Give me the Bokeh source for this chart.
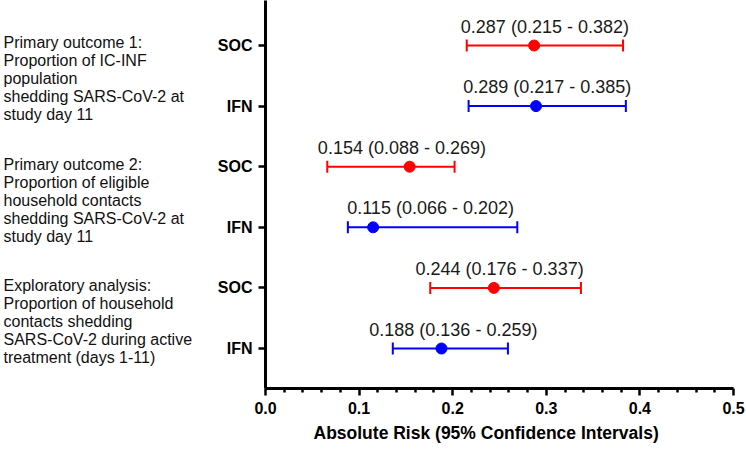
from bokeh.plotting import figure
from bokeh.models import Range1d, FixedTicker, PrintfTickFormatter, Title, ColumnDataSource
from bokeh.layouts import row
from bokeh.core.properties import value
from bokeh.embed import file_html
from bokeh.resources import INLINE

# ---- data ----
arms = ["SOC", "IFN", "SOC", "IFN", "SOC", "IFN"]
estimate = [0.287, 0.289, 0.154, 0.115, 0.244, 0.188]
ci_low = [0.215, 0.217, 0.066, 0.088, 0.176, 0.136]    # as drawn
ci_high = [0.382, 0.385, 0.202, 0.269, 0.337, 0.259]   # as drawn
value_labels = [
    "0.287 (0.215 - 0.382)",
    "0.289 (0.217 - 0.385)",
    "0.154 (0.088 - 0.269)",
    "0.115 (0.066 - 0.202)",
    "0.244 (0.176 - 0.337)",
    "0.188 (0.136 - 0.259)",
]
group_texts = [
    ["Primary outcome 1:", "Proportion of IC-INF", "population",
     "shedding SARS-CoV-2 at", "study day 11"],
    ["Primary outcome 2:", "Proportion of eligible", "household contacts",
     "shedding SARS-CoV-2 at", "study day 11"],
    ["Exploratory analysis:", "Proportion of household", "contacts shedding",
     "SARS-CoV-2 during active", "treatment (days 1-11)"],
]
x_ticks = [0.0, 0.1, 0.2, 0.3, 0.4, 0.5]
x_minor = [0.02, 0.04, 0.06, 0.08, 0.12, 0.14, 0.16, 0.18, 0.22, 0.24, 0.26, 0.28,
           0.32, 0.34, 0.36, 0.38, 0.42, 0.44, 0.46, 0.48]
x_title = "Absolute Risk  (95% Confidence Intervals)"

# ---- styling / layout ----
FONT = "Liberation Sans"
arm_colors = {"SOC": "#FF0000", "IFN": "#0000FF"}
label_nudge = [0, 0, 11, -2, -6, 3]   # px nudges of value labels
n = len(arms)
ypos = [n - i for i in range(n)]       # 6 .. 1 top to bottom
PPU = 60.6                             # px per y unit
CAP = 6.0 / PPU
Y_RANGE = (1 - 40 / PPU, n + 45 / PPU)
H = 452
BOTTOM = 64
LEFT_W = 200

colors = [arm_colors[a] for a in arms]
mid = [(lo + hi) / 2 for lo, hi in zip(ci_low, ci_high)]
src = ColumnDataSource(dict(y=ypos, est=estimate, lo=ci_low, hi=ci_high,
                            c=colors, mid=mid, txt=value_labels,
                            ylo=[y - CAP for y in ypos], yhi=[y + CAP for y in ypos],
                            nudge=label_nudge))

# left text panel
lt = figure(width=LEFT_W, height=H, x_range=Range1d(0, LEFT_W), y_range=Range1d(*Y_RANGE),
            output_backend="svg", toolbar_location=None,
            min_border_left=0, min_border_right=0, min_border_top=0, min_border_bottom=BOTTOM)
lt.axis.visible = False
lt.grid.visible = False
lt.outline_line_color = None
tx, ty, tt = [], [], []
for g, lines in enumerate(group_texts):
    centre = (ypos[2 * g] + ypos[2 * g + 1]) / 2 - 3 / PPU
    for i, line in enumerate(lines):
        tx.append(3)
        ty.append(centre + ((len(lines) - 1) / 2 - i) * 18 / PPU)
        tt.append(line)
lt.text(x=tx, y=ty, text=tt, text_align="left", text_baseline="middle",
        text_font=value(FONT), text_font_size="16px", text_color="#111111")

# main plot
p = figure(width=746 - LEFT_W, height=H, x_range=Range1d(0, 0.5), y_range=Range1d(*Y_RANGE),
           output_backend="svg", toolbar_location=None,
           min_border_left=65, min_border_right=13, min_border_top=0, min_border_bottom=BOTTOM)
p.outline_line_color = None
p.xgrid.grid_line_color = None
p.ygrid.grid_line_color = None

p.segment(x0="lo", x1="hi", y0="y", y1="y", line_color="c", line_width=2, source=src)
p.segment(x0="lo", x1="lo", y0="ylo", y1="yhi", line_color="c", line_width=2, source=src)
p.segment(x0="hi", x1="hi", y0="ylo", y1="yhi", line_color="c", line_width=2, source=src)
p.scatter(x="est", y="y", size=11, fill_color="c", line_color="c", source=src)
p.text(x="mid", y="y", text="txt", x_offset="nudge", y_offset=-19, text_align="center",
       text_baseline="middle", text_font_size="18px", text_color="#1a1a1a",
       text_font=value(FONT), source=src)

xa = p.xaxis[0]
xa.ticker = FixedTicker(ticks=x_ticks, minor_ticks=x_minor)
xa.formatter = PrintfTickFormatter(format="%.1f")
ya = p.yaxis[0]
ya.ticker = FixedTicker(ticks=ypos)
ya.major_label_overrides = {y: a for y, a in zip(ypos, arms)}
for ax in (xa, ya):
    ax.axis_line_width = 3
    ax.axis_line_color = "black"
    ax.major_tick_line_width = 2.5
    ax.major_tick_line_color = "black"
    ax.minor_tick_line_width = 2.5
    ax.minor_tick_line_color = "black"
    ax.major_tick_in = 0
    ax.major_tick_out = 7
    ax.minor_tick_in = 0
    ax.major_label_text_font = FONT
    ax.major_label_text_font_style = "bold"
    ax.major_label_text_font_size = "16px"
    ax.major_label_text_color = "black"
xa.minor_tick_out = 4
ya.minor_tick_out = 0
xa.major_label_standoff = 6
ya.major_label_standoff = 6

p.add_layout(Title(text=x_title, align="left", offset=48, text_font=FONT,
                   text_font_style="bold", text_font_size="17.5px", text_color="black",
                   standoff=8), "below")

open("out.html", "w").write(file_html(row(lt, p), INLINE))
